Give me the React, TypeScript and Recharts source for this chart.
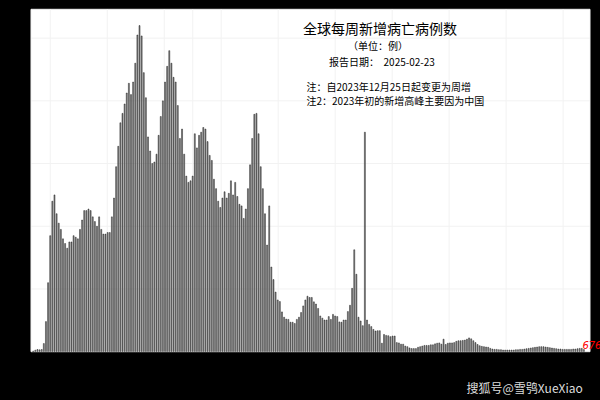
import React from 'react';
import { BarChart, Bar, XAxis, YAxis, CartesianGrid, LabelList } from 'recharts';

// Weekly new COVID-19 deaths worldwide
const deaths2020to2021a: number[] = [
  200, 500, 700, 600, 700,
  2600, 9600, 22000, 37000, 48000, 50000, 44000, 41000, 39000, 36000, 34500, 33000, 35000, 35000,
  37000, 36500, 36000, 39000, 42000, 45000, 45000, 45500, 45000, 43000, 41500, 40000, 43000, 39000,
  37500, 37500, 38000, 38000, 43000, 49000, 59000, 65500, 73000, 76000, 79000, 82500, 85600, 82000,
  86000, 92000, 101000, 104000, 100700, 89000, 81000, 68500, 64000, 60000, 60500, 63000,
];
const deaths2021to2022: number[] = [
  69000, 75000, 80000, 86000, 91000, 96000, 92000, 87500, 86000, 78500, 68000, 71000, 63000, 56000,
  54000, 54500, 56000, 69500, 65000, 69000, 70000, 71500, 71000, 67000, 62600, 61000, 55000, 52000,
  48000, 46000, 49000, 51000, 49000, 50500, 54500, 50000, 54000, 49500, 47000, 46500, 42500, 45500,
  52000, 59600, 68000, 75700, 76000, 69500, 59000, 52000, 44000, 34000, 46500, 27000, 23000, 19000,
  16500, 16000, 12700, 11000,
];
const deaths2022to2023: number[] = [
  10400, 10300, 9400, 9400, 9000, 10300, 11000, 12500, 14600, 16500, 17700, 17300, 17300, 15900,
  15200, 13800, 11400, 10700, 10100, 10100, 11200, 10300, 11900, 11400, 11200, 9500, 9400, 10100,
  10100, 12800, 14800, 20200, 32500, 24700, 11000, 9800, 8300, 70000, 10100, 8700, 8000, 7100, 6600,
  6700, 6700, 2700, 5500, 5200, 5100, 4800, 5000, 5000, 2900, 2800, 2400, 2400, 1800, 1600, 1200,
  1000, 1000, 1000, 1400, 1600, 1800, 2000, 2000, 2000, 2200, 2200,
];
const deaths2023to2025: number[] = [
  2500, 2700, 2800, 2400, 4000, 2300, 2700, 2800, 2800, 2900, 3300, 3500, 3500, 3600, 3700, 4000,
  4400, 4100, 3500, 2900, 2300, 1900, 1700, 1600, 1500, 1400, 1060, 850, 740, 740, 640, 640, 530,
  530, 530, 530, 530, 530, 640, 640, 740, 740, 850, 960, 1060, 1170, 1280, 1380, 1490, 1600, 1600,
  1600, 1490, 1380, 1280, 1170, 1060, 960, 850, 850, 740, 740, 740, 740, 740, 850, 850, 960, 1060,
  1060, 676,
];

const weeklyDeaths: number[] = [
  ...deaths2020to2021a,
  ...deaths2021to2022,
  ...deaths2022to2023,
  ...deaths2023to2025,
];

// Category labels: week index
const weekLabels: string[] = weeklyDeaths.map((_, i) => `W${i + 1}`);

const yTicks: number[] = [0, 20000, 40000, 60000, 80000, 100000];
const yMax = 109200;
// Vertical grid positions, in bar-index units
const xGridTicks: number[] = [8, 21.4, 34.8, 48.2, 61.6, 75, 88.4, 101.8, 115.2, 128.6, 142, 155.4, 168.8, 182.2, 195.6, 209, 222.4, 235.8, 249.2];

const titleText = '全球每周新增病亡病例数';
const unitText = '（单位：例）';
const dateText = '报告日期：  2025-02-23';
const note1Text = '注：自2023年12月25日起变更为周增';
const note2Text = '注2：2023年初的新增高峰主要因为中国';
const watermarkText = '搜狐号@雪鸮XueXiao';

const data = weekLabels.map((w, i) => ({ week: w, idx: i, deaths: weeklyDeaths[i] }));
const lastIndex = data.length - 1;

const cjk = '"Noto Sans CJK SC", "Noto Sans", sans-serif';

const LastLabel = (props: any) => {
  const { x, y, width, index, value } = props;
  if (index !== lastIndex) return null;
  return (
    <text x={x + width / 2 - 1.5} y={y - 1} fill="#ff0000" fontSize={10} fontFamily="DejaVu Sans, sans-serif" fontStyle="italic">
      {value}
    </text>
  );
};

export default function App() {
  return (
    <div style={{ position: 'absolute', left: 0, top: 0, width: 600, height: 400, background: '#000', overflow: 'hidden' }}>
      <BarChart
        width={600}
        height={400}
        data={data}
        margin={{ top: 9.3, right: 10, bottom: 48.3, left: 31 }}
        barCategoryGap="24%"
        style={{ position: 'absolute', left: 0, top: 0 }}
      >
        <CartesianGrid fill="#ffffff" stroke="#f2f2f2" strokeWidth={1} xAxisId="grid" />
        <XAxis dataKey="week" hide padding={{ left: 1.2, right: 5 }} />
        <XAxis xAxisId="grid" type="number" dataKey="idx" domain={[-0.5, lastIndex + 0.5]} ticks={xGridTicks} hide padding={{ left: 1.2, right: 5 }} allowDataOverflow />
        <YAxis hide domain={[0, yMax]} ticks={yTicks} allowDataOverflow />
        <Bar dataKey="deaths" fill="#858585" stroke="#111" strokeWidth={0.45} isAnimationActive={false}>
          <LabelList dataKey="deaths" content={LastLabel} />
        </Bar>
      </BarChart>
      <div style={{ position: 'absolute', left: 380, top: 27.5, transform: 'translate(-50%, -50%)', fontFamily: cjk, fontSize: 14, color: '#000', whiteSpace: 'nowrap' }}>{titleText}</div>
      <div style={{ position: 'absolute', left: 378, top: 44.5, transform: 'translate(-50%, -50%)', fontFamily: cjk, fontSize: 10, color: '#000', whiteSpace: 'nowrap' }}>{unitText}</div>
      <div style={{ position: 'absolute', left: 382, top: 61, transform: 'translate(-50%, -50%)', fontFamily: cjk, fontSize: 10, color: '#000', whiteSpace: 'pre' }}>{dateText}</div>
      <div style={{ position: 'absolute', left: 306.5, top: 86, transform: 'translate(0, -50%)', fontFamily: cjk, fontSize: 10, color: '#000', whiteSpace: 'nowrap' }}>{note1Text}</div>
      <div style={{ position: 'absolute', left: 306.5, top: 99.5, transform: 'translate(0, -50%)', fontFamily: cjk, fontSize: 10, color: '#000', whiteSpace: 'nowrap' }}>{note2Text}</div>
      <div style={{ position: 'absolute', left: 466.5, top: 386.5, transform: 'translate(0, -50%)', fontFamily: cjk, fontSize: 12, color: '#dddddd', whiteSpace: 'nowrap' }}>{watermarkText}</div>
    </div>
  );
}
